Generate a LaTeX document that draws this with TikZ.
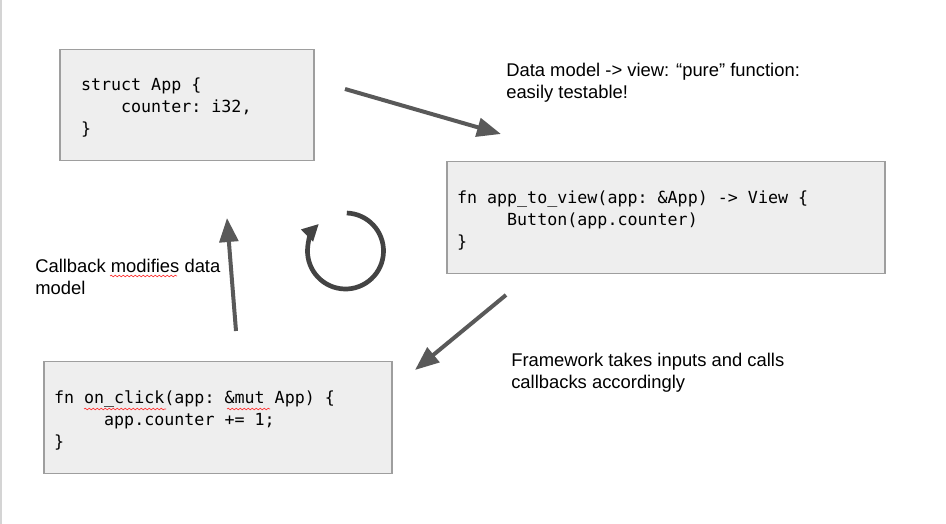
\documentclass[tikz,border=0pt]{standalone}
\usepackage{fontspec}
\setmainfont{Liberation Sans}
\newfontfamily\codefont{DejaVu Sans Mono}
\usetikzlibrary{arrows.meta,decorations.pathmorphing}
\definecolor{boxfill}{HTML}{EEEEEE}
\definecolor{boxline}{HTML}{9E9E9E}
\definecolor{arrowgray}{HTML}{595959}
\definecolor{loopgray}{HTML}{434343}
\definecolor{slideedge}{HTML}{D4D4D4}
% one monospace blank
\newcommand\gap{\hspace*{0.602em}}
\begin{document}
\begin{tikzpicture}[x=0.75pt,y=0.75pt,
  codebox/.style={draw=boxline,fill=boxfill,line width=0.8pt,align=left,inner ysep=0pt,minimum height=83.5pt,
    font=\codefont\fontsize{12.5}{16.5}\selectfont,execute at begin node=\rule{0pt}{14pt}},
  note/.style={align=left,inner sep=0pt,anchor=north west,font=\fontsize{13.8}{16.5}\selectfont},
  flow/.style={draw=arrowgray,line width=3pt,-{Triangle[length=18pt,width=14pt]}},
  typo/.style={draw=red!80,line width=0.5pt,decorate,decoration={snake,amplitude=0.6pt,segment length=3pt}}]
\useasboundingbox (0,0) rectangle (946,-524);
\draw[slideedge,line width=1pt] (1,0) -- (1,-524);
% the three code boxes
\node[codebox,text width=159pt,inner xsep=15.75pt] (model) at (187,-105)
  {struct\gap App\gap\{\\\gap\gap\gap\gap counter:\gap i32,\\\}};
\node[codebox,text width=313.5pt,inner xsep=7.5pt] (view) at (666,-217.5)
  {fn\gap app\_to\_view(app:\gap\&App)\gap->\gap View\gap\{\\\gap\gap\gap\gap\gap Button(app.counter)\\\}};
\node[codebox,text width=246pt,inner xsep=7.5pt] (click) at (218,-417.5)
  {fn\gap on\_click(app:\gap\&mut\gap App)\gap\{\\\gap\gap\gap\gap\gap app.counter\gap+=\gap 1;\\\}};
% notes
\node[note] (puretext) at (506,-63) {Data model -> view: “pure” function:\\easily testable!};
\node[note] (callbacktext) at (35,-259) {Callback modifies data\\model};
\node[note] (frameworktext) at (511,-353) {Framework takes inputs and calls\\callbacks accordingly};
% arrows
\coordinate (modelout) at (345,-89);
\coordinate (viewin) at (501,-134);
\coordinate (viewout) at (506,-295);
\coordinate (clickin) at (415,-370);
\coordinate (clickout) at (236,-331);
\coordinate (modelin) at (227,-218);
\draw[flow] (modelout) -- (viewin);
\draw[flow] (viewout) -- (clickin);
\draw[flow] (clickout) -- (modelin);
\coordinate (loopcentre) at (345.5,-251);
\draw[loopgray,line width=3.5pt,-{Triangle[length=12.5pt,width=12pt]}] ([shift={(88:38)}]loopcentre) arc[start angle=88,end angle=-225.5,radius=38];
% spell-check marks
\draw[typo] (110,-276) -- (177,-276);
\draw[typo] (84,-409) -- (166,-409);
\draw[typo] (227,-409) -- (270,-409);
\end{tikzpicture}
\end{document}
